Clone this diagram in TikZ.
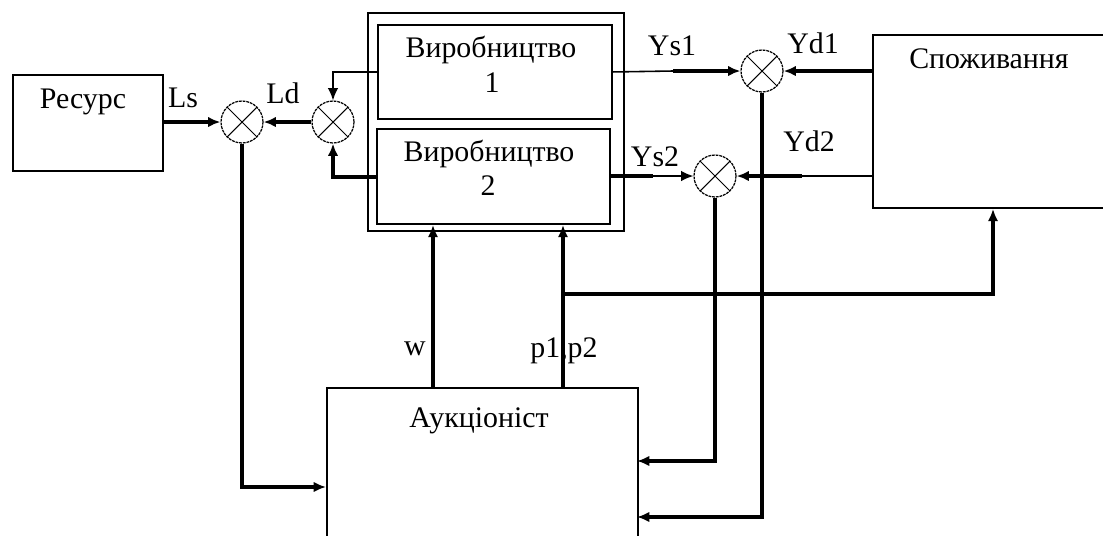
\documentclass[tikz,border=0pt]{standalone}
\usepackage{fontspec}
\setmainfont{Liberation Serif}
\usetikzlibrary{arrows.meta}
\begin{document}
\begin{tikzpicture}[x=0.02cm,y=-0.02cm,
  blk/.style={draw, line width=1.1pt, inner sep=0pt, anchor=north west},
  sumj/.style={circle, draw, line width=0.7pt, dash pattern=on 1.6pt off 0.5pt,
    minimum size=0.84cm, inner sep=0pt,
    path picture={\draw[line width=0.6pt, solid]
      (path picture bounding box.north west) -- (path picture bounding box.south east)
      (path picture bounding box.north east) -- (path picture bounding box.south west);}},
  lbl/.style={font=\fontsize{17}{19}\selectfont, anchor=base, inner sep=0pt},
  heavy/.style={line width=2.1pt},
  thinl/.style={line width=0.9pt},
  arr/.style={-{Latex[length=7pt,width=6pt]}}]
\path[use as bounding box, clip] (0,0) rectangle (1103,535);

% blocks
\node[blk, minimum width=3cm, minimum height=1.92cm] (res) at (12,74) {};
\node[blk, minimum width=5.12cm, minimum height=4.36cm] (outer) at (367,12) {};
\node[blk, minimum width=4.68cm, minimum height=1.88cm] (p1) at (377,24) {};
\node[blk, minimum width=4.66cm, minimum height=1.9cm] (p2) at (376,128) {};
\node[blk, minimum width=4.86cm, minimum height=3.46cm] (cons) at (872,34) {};
\node[blk, minimum width=6.22cm, minimum height=3.3cm] (auc) at (326,387) {};

% summing junctions
\node[sumj] (s1) at (242,122) {};
\node[sumj] (s2) at (333,122) {};
\node[sumj] (s3) at (762,71) {};
\node[sumj] (s4) at (715,176) {};

% texts
\node[lbl] (tres) at (83,108) {Ресурс};
\node[lbl] (tp1a) at (491,57) {Виробництво};
\node[lbl] (tp1b) at (492,92) {1};
\node[lbl] (tp2a) at (489,161) {Виробництво};
\node[lbl] (tp2b) at (488,195) {2};
\node[lbl] (tcons) at (989,68) {Споживання};
\node[lbl] (tauc) at (479,427) {Аукціоніст};
\node[lbl] (tLs) at (183,107) {Ls};
\node[lbl] (tLd) at (283,103) {Ld};
\node[lbl] (tYs1) at (672,55) {Ys1};
\node[lbl] (tYs2) at (655,166) {Ys2};
\node[lbl] (tYd1) at (813,53) {Yd1};
\node[lbl] (tYd2) at (809,151) {Yd2};
\node[lbl] (tw) at (415,355) {w};
\node[lbl] (tp) at (564,357) {p1,p2};

% helper coordinates
\coordinate (ys1m) at (673,71);
\coordinate (ys2m) at (653,176);
\coordinate (yd2m) at (802,176);
\coordinate (ainL) at (326,487);
\coordinate (ainR1) at (637,461);
\coordinate (ainR2) at (637,517);
\coordinate (wx) at (433,0);
\coordinate (px) at (563,0);
\coordinate (br) at (563,294);
\coordinate (cx) at (993,0);

% connectors
\draw[heavy, arr] (res.east |- s1) -- (s1.west);
\draw[heavy, arr] (s2.west) -- (s1.east);
\draw[thinl, arr] (p1.west) -| (s2.north);
\draw[heavy, arr] (p2.west |- 0,177) -| (s2.south);
\draw[thinl] (p1.east) -- (ys1m);
\draw[heavy, arr] (ys1m) -- (s3.west);
\draw[heavy] (p2.east |- s4) -- (ys2m);
\draw[thinl, arr] (ys2m) -- (s4.west);
\draw[heavy, arr] (s3 -| cons.west) -- (s3.east);
\draw[thinl] (s4 -| cons.west) -- (yd2m);
\draw[heavy, arr] (yd2m) -- (s4.east);
\draw[heavy, arr] (s1.south) |- (ainL);
\draw[heavy, arr] (auc.north -| wx) -- (p2.south -| wx);
\draw[heavy, arr] (auc.north -| px) -- (p2.south -| px);
\draw[heavy, arr] (br) -| (cons.south -| cx);
\draw[heavy, arr] (s4.south) |- (ainR1);
\draw[heavy, arr] (s3.south) |- (ainR2);
\end{tikzpicture}
\end{document}
